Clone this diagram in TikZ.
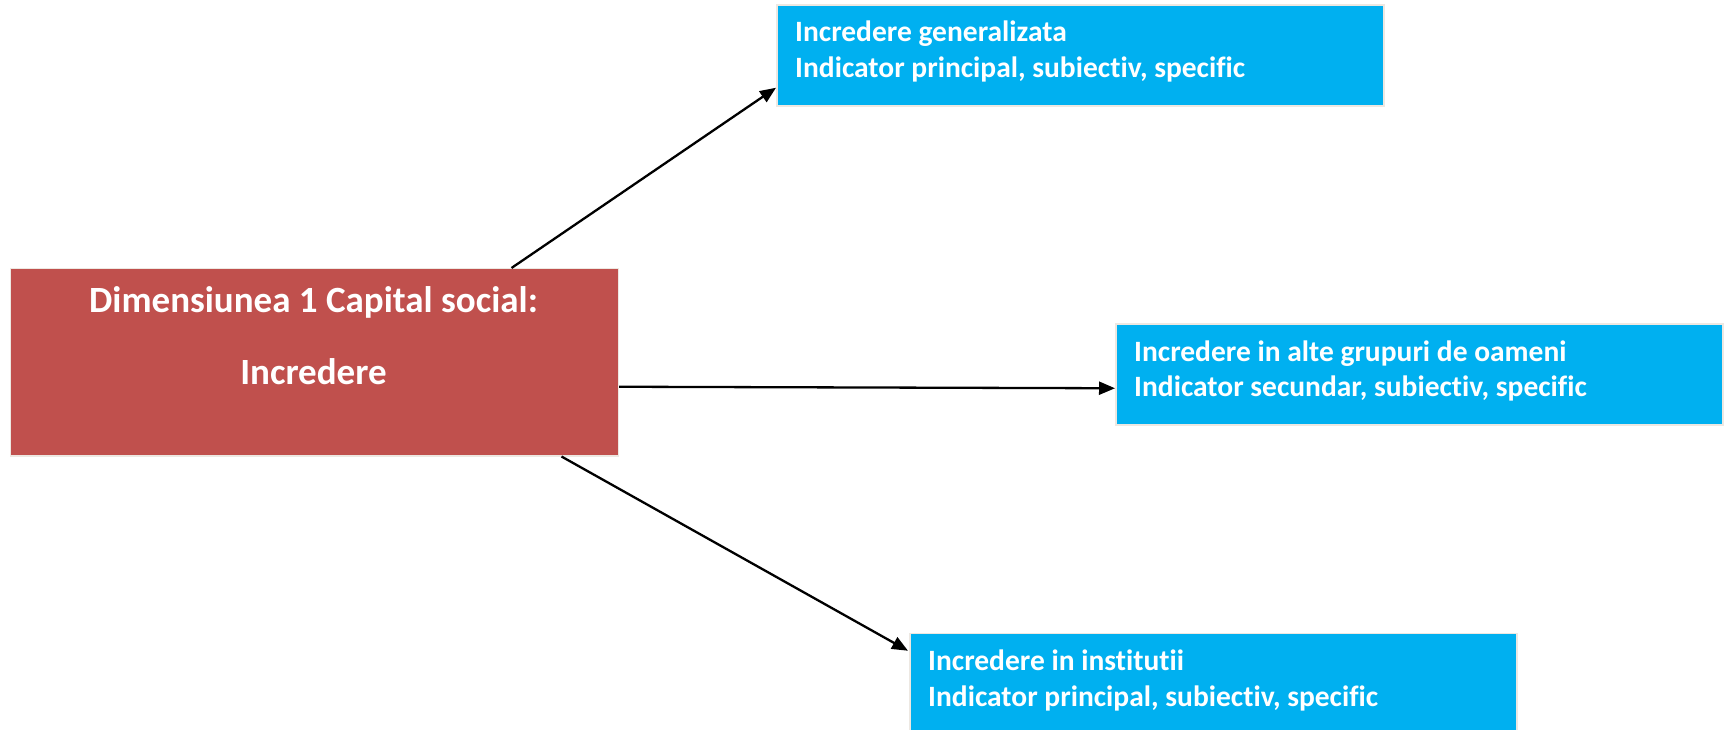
\documentclass[tikz,border=0pt]{standalone}
\usepackage{fontspec}
\setmainfont{Carlito}[Ligatures=NoCommon]
\usetikzlibrary{arrows.meta,calc}
\definecolor{boxred}{HTML}{C0504D}
\definecolor{boxblue}{HTML}{00B0F0}
\definecolor{edgegray}{HTML}{EDE8E2}
\tikzset{
  redbox/.style={draw=edgegray,line width=1.5pt,fill=boxred,anchor=north west,inner sep=0pt},
  bluebox/.style={draw=edgegray,line width=1.5pt,fill=boxblue,anchor=north west,inner sep=0pt,minimum width=607pt,minimum height=101pt},
  redtext/.style={text=white,font=\bfseries\fontsize{37}{44}\selectfont,anchor=base,inner sep=0pt},
  bluetext/.style={text=white,font=\bfseries\fontsize{29.5}{35}\selectfont,anchor=base west,inner sep=0pt},
  conn/.style={line width=2.3pt,-{Triangle[length=16pt,width=13pt]}}
}
\begin{document}
\begin{tikzpicture}[x=1pt,y=-1pt]
\useasboundingbox (0,0) rectangle (1725,730);
% central box
\node[redbox,minimum width=608pt,minimum height=187pt] (red) at (9.5,268) {};
\node[redtext] (redl1) at (313.5,312.5) {Dimensiunea 1 Capital social:};
\node[redtext] (redl2) at (313.5,384) {Incredere};
% blue boxes
\node[bluebox] (b1) at (776,4.5) {};
\node[bluetext] (b1l1) at (795,42) {Incredere generalizata};
\node[bluetext] (b1l2) at (795,77.5) {Indicator principal, subiectiv, specific};
\node[bluebox] (b2) at (1115,323) {};
\node[bluetext] (b2l1) at (1134,361) {Incredere in alte grupuri de oameni};
\node[bluetext] (b2l2) at (1134,396.5) {Indicator secundar, subiectiv, specific};
\node[bluebox,minimum height=105pt] (b3) at (909,632.5) {};
\node[bluetext] (b3l1) at (928,670.5) {Incredere in institutii};
\node[bluetext] (b3l2) at (928,706) {Indicator principal, subiectiv, specific};
% connectors
\draw[conn] ([xshift=502pt]red.north west) -- ([yshift=-32pt]b1.west);
\draw[conn] ([yshift=-24.5pt]red.east) -- ([yshift=-14pt]b2.west);
\draw[conn] ([xshift=552pt]red.south west) -- ([yshift=35pt,xshift=-1pt]b3.west);
\end{tikzpicture}
\end{document}
